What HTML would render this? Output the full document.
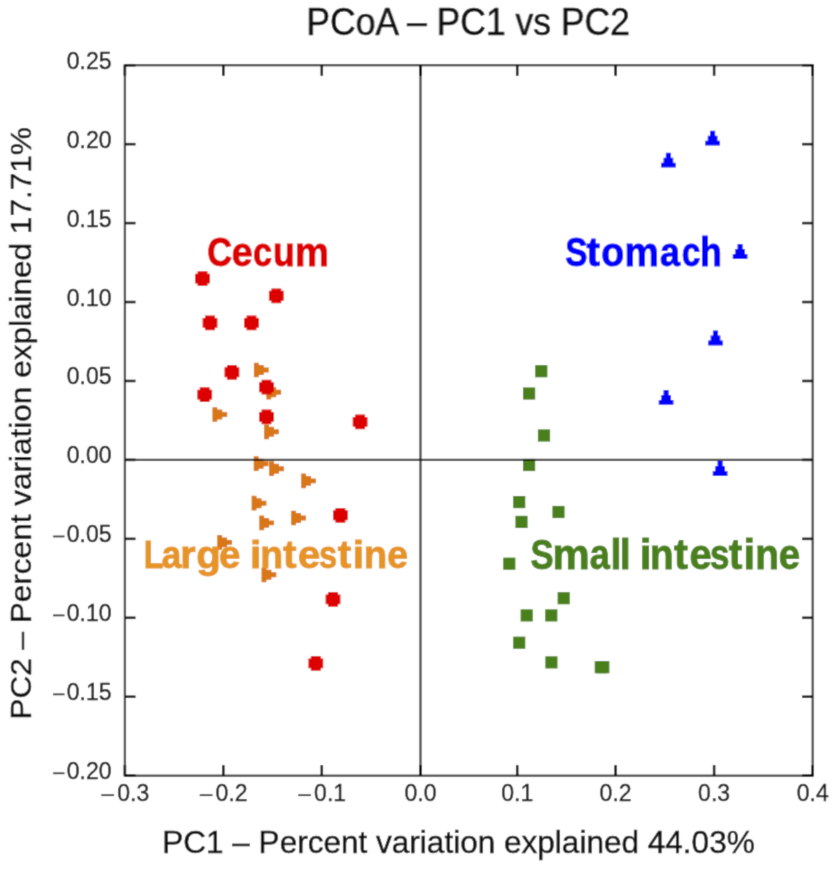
<!DOCTYPE html>
<html><head><meta charset="utf-8"><title>PCoA</title>
<style>html,body{margin:0;padding:0;background:#fff;}svg{display:block;will-change:transform;}text{font-family:"Liberation Sans",sans-serif;}</style>
</head><body>
<svg width="839" height="869" viewBox="0 0 839 869">
<defs><filter id="bl" x="0" y="0" width="1" height="1"><feConvolveMatrix order="3" kernelMatrix="0.0250 0.1000 0.0250 0.1000 0.5000 0.1000 0.0250 0.1000 0.0250" divisor="1" edgeMode="duplicate" preserveAlpha="true"/></filter></defs>
<rect width="839" height="869" fill="#fff"/>
<g filter="url(#bl)">
<rect width="839" height="869" fill="#fff"/>
<path d="M253.90 362.65H258.80V365.05H263.80V367.55H268.70V372.45H263.80V374.95H258.80V377.35H253.90Z" fill="#d97619"/>
<path d="M266.30 384.85H271.20V387.25H276.20V389.75H281.10V394.65H276.20V397.15H271.20V399.55H266.30Z" fill="#d97619"/>
<path d="M212.40 407.15H217.30V409.55H222.30V412.05H227.20V416.95H222.30V419.45H217.30V421.85H212.40Z" fill="#d97619"/>
<path d="M264.10 424.45H269.00V426.85H274.00V429.35H278.90V434.25H274.00V436.75H269.00V439.15H264.10Z" fill="#d97619"/>
<path d="M253.70 456.35H258.60V458.75H263.60V461.25H268.50V466.15H263.60V468.65H258.60V471.05H253.70Z" fill="#d97619"/>
<path d="M269.10 461.35H274.00V463.75H279.00V466.25H283.90V471.15H279.00V473.65H274.00V476.05H269.10Z" fill="#d97619"/>
<path d="M301.10 473.55H306.00V475.95H311.00V478.45H315.90V483.35H311.00V485.85H306.00V488.25H301.10Z" fill="#d97619"/>
<path d="M251.60 495.85H256.50V498.25H261.50V500.75H266.40V505.65H261.50V508.15H256.50V510.55H251.60Z" fill="#d97619"/>
<path d="M291.10 510.65H296.00V513.05H301.00V515.55H305.90V520.45H301.00V522.95H296.00V525.35H291.10Z" fill="#d97619"/>
<path d="M259.20 515.55H264.10V517.95H269.10V520.45H274.00V525.35H269.10V527.85H264.10V530.25H259.20Z" fill="#d97619"/>
<path d="M217.20 535.05H222.10V537.45H227.10V539.95H232.00V544.85H227.10V547.35H222.10V549.75H217.20Z" fill="#d97619"/>
<path d="M261.50 567.45H266.40V569.85H271.40V572.35H276.30V577.25H271.40V579.75H266.40V582.15H261.50Z" fill="#d97619"/>
<path d="M197.55 271.20H207.45V273.65H209.90V283.55H207.45V286.00H197.55V283.55H195.10V273.65H197.55Z" fill="#dd0000"/>
<path d="M271.35 288.40H281.25V290.85H283.70V300.75H281.25V303.20H271.35V300.75H268.90V290.85H271.35Z" fill="#dd0000"/>
<path d="M205.05 315.50H214.95V317.95H217.40V327.85H214.95V330.30H205.05V327.85H202.60V317.95H205.05Z" fill="#dd0000"/>
<path d="M246.55 315.50H256.45V317.95H258.90V327.85H256.45V330.30H246.55V327.85H244.10V317.95H246.55Z" fill="#dd0000"/>
<path d="M226.95 364.90H236.85V367.35H239.30V377.25H236.85V379.70H226.95V377.25H224.50V367.35H226.95Z" fill="#dd0000"/>
<path d="M199.75 387.20H209.65V389.65H212.10V399.55H209.65V402.00H199.75V399.55H197.30V389.65H199.75Z" fill="#dd0000"/>
<path d="M261.55 379.80H271.45V382.25H273.90V392.15H271.45V394.60H261.55V392.15H259.10V382.25H261.55Z" fill="#dd0000"/>
<path d="M261.55 409.50H271.45V411.95H273.90V421.85H271.45V424.30H261.55V421.85H259.10V411.95H261.55Z" fill="#dd0000"/>
<path d="M355.15 414.50H365.05V416.95H367.50V426.85H365.05V429.30H355.15V426.85H352.70V416.95H355.15Z" fill="#dd0000"/>
<path d="M335.45 507.90H345.35V510.35H347.80V520.25H345.35V522.70H335.45V520.25H333.00V510.35H335.45Z" fill="#dd0000"/>
<path d="M328.05 592.00H337.95V594.45H340.40V604.35H337.95V606.80H328.05V604.35H325.60V594.45H328.05Z" fill="#dd0000"/>
<path d="M310.85 656.00H320.75V658.45H323.20V668.35H320.75V670.80H310.85V668.35H308.40V658.45H310.85Z" fill="#dd0000"/>
<rect x="535.20" y="365.10" width="12.20" height="12.20" fill="#4a801f"/>
<rect x="523.00" y="387.40" width="12.20" height="12.20" fill="#4a801f"/>
<rect x="537.90" y="429.40" width="12.20" height="12.20" fill="#4a801f"/>
<rect x="523.00" y="458.90" width="12.20" height="12.20" fill="#4a801f"/>
<rect x="513.10" y="496.00" width="12.20" height="12.20" fill="#4a801f"/>
<rect x="552.40" y="505.90" width="12.20" height="12.20" fill="#4a801f"/>
<rect x="515.40" y="515.80" width="12.20" height="12.20" fill="#4a801f"/>
<rect x="503.20" y="557.60" width="12.20" height="12.20" fill="#4a801f"/>
<rect x="557.60" y="592.10" width="12.20" height="12.20" fill="#4a801f"/>
<rect x="520.60" y="609.30" width="12.20" height="12.20" fill="#4a801f"/>
<rect x="545.20" y="609.30" width="12.20" height="12.20" fill="#4a801f"/>
<rect x="513.10" y="636.60" width="12.20" height="12.20" fill="#4a801f"/>
<rect x="545.30" y="656.30" width="12.20" height="12.20" fill="#4a801f"/>
<rect x="594.70" y="661.10" width="12.20" height="12.20" fill="#4a801f"/>
<rect x="597.20" y="661.10" width="12.20" height="12.20" fill="#4a801f"/>
<path d="M710.05 130.80H715.15V135.70H717.45V140.70H719.95V145.60H705.25V140.70H707.75V135.70H710.05Z" fill="#0000ff"/>
<path d="M665.85 152.80H670.95V157.70H673.25V162.70H675.75V167.60H661.05V162.70H663.55V157.70H665.85Z" fill="#0000ff"/>
<path d="M737.55 244.10H742.65V249.00H744.95V254.00H747.45V258.90H732.75V254.00H735.25V249.00H737.55Z" fill="#0000ff"/>
<path d="M712.95 330.60H718.05V335.50H720.35V340.50H722.85V345.40H708.15V340.50H710.65V335.50H712.95Z" fill="#0000ff"/>
<path d="M663.55 390.00H668.65V394.90H670.95V399.90H673.45V404.80H658.75V399.90H661.25V394.90H663.55Z" fill="#0000ff"/>
<path d="M717.55 461.10H722.65V466.00H724.95V471.00H727.45V475.90H712.75V471.00H715.25V466.00H717.55Z" fill="#0000ff"/>
<line x1="420.5" y1="65.2" x2="420.5" y2="775.7" stroke="#000" stroke-opacity="0.72" stroke-width="2.3"/>
<line x1="124.9" y1="459.92" x2="812.7" y2="459.92" stroke="#000" stroke-opacity="0.72" stroke-width="2.3"/>
<rect x="124.9" y="65.2" width="687.80" height="710.50" fill="none" stroke="#4a4a4a" stroke-width="2.3"/>
<line x1="124.9" y1="775.7" x2="124.9" y2="765.1" stroke="#000" stroke-width="2.5"/>
<line x1="124.9" y1="65.2" x2="124.9" y2="75.8" stroke="#000" stroke-width="2.5"/>
<line x1="223.3" y1="775.7" x2="223.3" y2="765.1" stroke="#000" stroke-width="2.5"/>
<line x1="223.3" y1="65.2" x2="223.3" y2="75.8" stroke="#000" stroke-width="2.5"/>
<line x1="321.8" y1="775.7" x2="321.8" y2="765.1" stroke="#000" stroke-width="2.5"/>
<line x1="321.8" y1="65.2" x2="321.8" y2="75.8" stroke="#000" stroke-width="2.5"/>
<line x1="420.5" y1="775.7" x2="420.5" y2="765.1" stroke="#000" stroke-width="2.5"/>
<line x1="420.5" y1="65.2" x2="420.5" y2="75.8" stroke="#000" stroke-width="2.5"/>
<line x1="517.2" y1="775.7" x2="517.2" y2="765.1" stroke="#000" stroke-width="2.5"/>
<line x1="517.2" y1="65.2" x2="517.2" y2="75.8" stroke="#000" stroke-width="2.5"/>
<line x1="615.6" y1="775.7" x2="615.6" y2="765.1" stroke="#000" stroke-width="2.5"/>
<line x1="615.6" y1="65.2" x2="615.6" y2="75.8" stroke="#000" stroke-width="2.5"/>
<line x1="714.1" y1="775.7" x2="714.1" y2="765.1" stroke="#000" stroke-width="2.5"/>
<line x1="714.1" y1="65.2" x2="714.1" y2="75.8" stroke="#000" stroke-width="2.5"/>
<line x1="812.7" y1="775.7" x2="812.7" y2="765.1" stroke="#000" stroke-width="2.5"/>
<line x1="812.7" y1="65.2" x2="812.7" y2="75.8" stroke="#000" stroke-width="2.5"/>
<line x1="124.9" y1="65.20" x2="135.5" y2="65.20" stroke="#000" stroke-width="2.5"/>
<line x1="812.7" y1="65.20" x2="802.1" y2="65.20" stroke="#000" stroke-width="2.5"/>
<line x1="124.9" y1="144.14" x2="135.5" y2="144.14" stroke="#000" stroke-width="2.5"/>
<line x1="812.7" y1="144.14" x2="802.1" y2="144.14" stroke="#000" stroke-width="2.5"/>
<line x1="124.9" y1="223.09" x2="135.5" y2="223.09" stroke="#000" stroke-width="2.5"/>
<line x1="812.7" y1="223.09" x2="802.1" y2="223.09" stroke="#000" stroke-width="2.5"/>
<line x1="124.9" y1="302.03" x2="135.5" y2="302.03" stroke="#000" stroke-width="2.5"/>
<line x1="812.7" y1="302.03" x2="802.1" y2="302.03" stroke="#000" stroke-width="2.5"/>
<line x1="124.9" y1="380.98" x2="135.5" y2="380.98" stroke="#000" stroke-width="2.5"/>
<line x1="812.7" y1="380.98" x2="802.1" y2="380.98" stroke="#000" stroke-width="2.5"/>
<line x1="124.9" y1="459.92" x2="135.5" y2="459.92" stroke="#000" stroke-width="2.5"/>
<line x1="812.7" y1="459.92" x2="802.1" y2="459.92" stroke="#000" stroke-width="2.5"/>
<line x1="124.9" y1="538.87" x2="135.5" y2="538.87" stroke="#000" stroke-width="2.5"/>
<line x1="812.7" y1="538.87" x2="802.1" y2="538.87" stroke="#000" stroke-width="2.5"/>
<line x1="124.9" y1="617.81" x2="135.5" y2="617.81" stroke="#000" stroke-width="2.5"/>
<line x1="812.7" y1="617.81" x2="802.1" y2="617.81" stroke="#000" stroke-width="2.5"/>
<line x1="124.9" y1="696.76" x2="135.5" y2="696.76" stroke="#000" stroke-width="2.5"/>
<line x1="812.7" y1="696.76" x2="802.1" y2="696.76" stroke="#000" stroke-width="2.5"/>
<line x1="124.9" y1="775.70" x2="135.5" y2="775.70" stroke="#000" stroke-width="2.5"/>
<line x1="812.7" y1="775.70" x2="802.1" y2="775.70" stroke="#000" stroke-width="2.5"/>
<text x="149.20" y="800.9" font-size="23" text-anchor="end" fill="#1a1a1a" stroke="#1a1a1a" stroke-width="0.4">0.3</text>
<rect x="101.30" y="794.35" width="12.80" height="1.7" fill="#1a1a1a"/>
<text x="247.60" y="800.9" font-size="23" text-anchor="end" fill="#1a1a1a" stroke="#1a1a1a" stroke-width="0.4">0.2</text>
<rect x="199.70" y="794.35" width="12.80" height="1.7" fill="#1a1a1a"/>
<text x="346.10" y="800.9" font-size="23" text-anchor="end" fill="#1a1a1a" stroke="#1a1a1a" stroke-width="0.4">0.1</text>
<rect x="298.20" y="794.35" width="12.80" height="1.7" fill="#1a1a1a"/>
<text x="420.5" y="800.9" font-size="23" text-anchor="middle" fill="#1a1a1a" stroke="#1a1a1a" stroke-width="0.4">0.0</text>
<text x="517.2" y="800.9" font-size="23" text-anchor="middle" fill="#1a1a1a" stroke="#1a1a1a" stroke-width="0.4">0.1</text>
<text x="615.6" y="800.9" font-size="23" text-anchor="middle" fill="#1a1a1a" stroke="#1a1a1a" stroke-width="0.4">0.2</text>
<text x="714.1" y="800.9" font-size="23" text-anchor="middle" fill="#1a1a1a" stroke="#1a1a1a" stroke-width="0.4">0.3</text>
<text x="812.7" y="800.9" font-size="23" text-anchor="middle" fill="#1a1a1a" stroke="#1a1a1a" stroke-width="0.4">0.4</text>
<text x="111.6" y="68.70" font-size="23" text-anchor="end" fill="#1a1a1a" stroke="#1a1a1a" stroke-width="0.4">0.25</text>
<text x="111.6" y="147.64" font-size="23" text-anchor="end" fill="#1a1a1a" stroke="#1a1a1a" stroke-width="0.4">0.20</text>
<text x="111.6" y="226.59" font-size="23" text-anchor="end" fill="#1a1a1a" stroke="#1a1a1a" stroke-width="0.4">0.15</text>
<text x="111.6" y="305.53" font-size="23" text-anchor="end" fill="#1a1a1a" stroke="#1a1a1a" stroke-width="0.4">0.10</text>
<text x="111.6" y="384.48" font-size="23" text-anchor="end" fill="#1a1a1a" stroke="#1a1a1a" stroke-width="0.4">0.05</text>
<text x="111.6" y="463.42" font-size="23" text-anchor="end" fill="#1a1a1a" stroke="#1a1a1a" stroke-width="0.4">0.00</text>
<text x="111.6" y="542.37" font-size="23" text-anchor="end" fill="#1a1a1a" stroke="#1a1a1a" stroke-width="0.4">0.05</text>
<rect x="53.0" y="535.62" width="11.50" height="1.7" fill="#1a1a1a"/>
<text x="111.6" y="621.31" font-size="23" text-anchor="end" fill="#1a1a1a" stroke="#1a1a1a" stroke-width="0.4">0.10</text>
<rect x="53.0" y="614.56" width="11.50" height="1.7" fill="#1a1a1a"/>
<text x="111.6" y="700.26" font-size="23" text-anchor="end" fill="#1a1a1a" stroke="#1a1a1a" stroke-width="0.4">0.15</text>
<rect x="53.0" y="693.51" width="11.50" height="1.7" fill="#1a1a1a"/>
<text x="111.6" y="779.20" font-size="23" text-anchor="end" fill="#1a1a1a" stroke="#1a1a1a" stroke-width="0.4">0.20</text>
<rect x="53.0" y="772.45" width="11.50" height="1.7" fill="#1a1a1a"/>
<g font-size="39" font-weight="bold" fill="#dd0000" stroke="#dd0000" stroke-width="0.9"><text transform="translate(207.27 266.11) scale(0.8836 1.0559)">C</text><text transform="translate(231.69 266.11) scale(0.9608 1.0559)">e</text><text transform="translate(252.96 266.11) scale(0.8783 1.0559)">c</text><text transform="translate(272.88 266.11) scale(0.9104 1.0559)">u</text><text transform="translate(294.88 266.11) scale(0.9800 1.0559)">m</text></g><!--Cecum-->
<g font-size="39" font-weight="bold" fill="#0000ff" stroke="#0000ff" stroke-width="0.9"><text transform="translate(565.36 265.79) scale(0.8543 1.0362)">S</text><text transform="translate(586.47 265.79) scale(1.0365 1.0362)">t</text><text transform="translate(601.30 265.79) scale(0.9615 1.0362)">o</text><text transform="translate(624.62 265.79) scale(0.9923 1.0362)">m</text><text transform="translate(660.08 265.79) scale(0.9203 1.0362)">a</text><text transform="translate(681.82 265.79) scale(0.8595 1.0362)">c</text><text transform="translate(699.94 265.79) scale(0.9206 1.0362)">h</text></g><!--Stomach-->
<g font-size="39" font-weight="bold" fill="#e69428" stroke="#e69428" stroke-width="0.9"><text transform="translate(143.80 567.91) scale(0.8360 0.9874)">L</text><text transform="translate(161.66 567.91) scale(0.9000 0.9874)">a</text><text transform="translate(180.28 567.91) scale(1.0107 0.9874)">r</text><text transform="translate(196.22 567.91) scale(1.0331 0.9874)">g</text><text transform="translate(218.95 567.91) scale(0.9875 0.9874)">e</text><text transform="translate(250.03 567.91) scale(1.0415 0.9874)">i</text><text transform="translate(260.32 567.91) scale(0.9616 0.9874)">n</text><text transform="translate(283.09 567.91) scale(1.0408 0.9874)">t</text><text transform="translate(297.88 567.91) scale(1.0252 0.9874)">e</text><text transform="translate(318.99 567.91) scale(0.8345 0.9874)">s</text><text transform="translate(337.67 567.91) scale(1.0370 0.9874)">t</text><text transform="translate(352.63 567.91) scale(1.0500 0.9874)">i</text><text transform="translate(363.79 567.91) scale(0.9849 0.9874)">n</text><text transform="translate(387.19 567.91) scale(0.9563 0.9874)">e</text></g><!--Large intestine-->
<g font-size="39" font-weight="bold" fill="#4a801f" stroke="#4a801f" stroke-width="0.9"><text transform="translate(530.45 569.39) scale(0.8862 1.0683)">S</text><text transform="translate(552.52 569.39) scale(1.0728 1.0683)">m</text><text transform="translate(589.63 569.39) scale(0.9243 1.0683)">a</text><text transform="translate(610.44 569.39) scale(1.0107 1.0683)">l</text><text transform="translate(619.84 569.39) scale(1.0107 1.0683)">l</text><text transform="translate(639.87 569.39) scale(1.0889 1.0683)">i</text><text transform="translate(650.10 569.39) scale(0.9924 1.0683)">n</text><text transform="translate(674.11 569.39) scale(1.0694 1.0683)">t</text><text transform="translate(689.58 569.39) scale(1.0207 1.0683)">e</text><text transform="translate(709.88 569.39) scale(0.8961 1.0683)">s</text><text transform="translate(728.83 569.39) scale(1.0425 1.0683)">t</text><text transform="translate(743.56 569.39) scale(1.0720 1.0683)">i</text><text transform="translate(755.24 569.39) scale(0.9976 1.0683)">n</text><text transform="translate(778.78 569.39) scale(0.9845 1.0683)">e</text></g><!--Small intestine-->
<text x="0" y="0" transform="translate(306.34 34.89) scale(0.9864 1.0588)" font-size="36" font-weight="normal" fill="#111" stroke="#111" stroke-width="0.5">PCoA – PC1 vs PC2</text>
<text x="0" y="0" transform="translate(162.20 852.79) scale(1.0515 1.0187)" font-size="30" font-weight="normal" fill="#111" stroke="#111" stroke-width="0.45">PC1 – Percent variation explained 44.03%</text>
<text x="0" y="0" transform="translate(30.94 719.60) rotate(-90) scale(1.0513 0.9880)" font-size="30" font-weight="normal" fill="#111" stroke="#111" stroke-width="0.45">PC2 – Percent variation explained 17.71%</text>
</g>
</svg>
</body></html>
